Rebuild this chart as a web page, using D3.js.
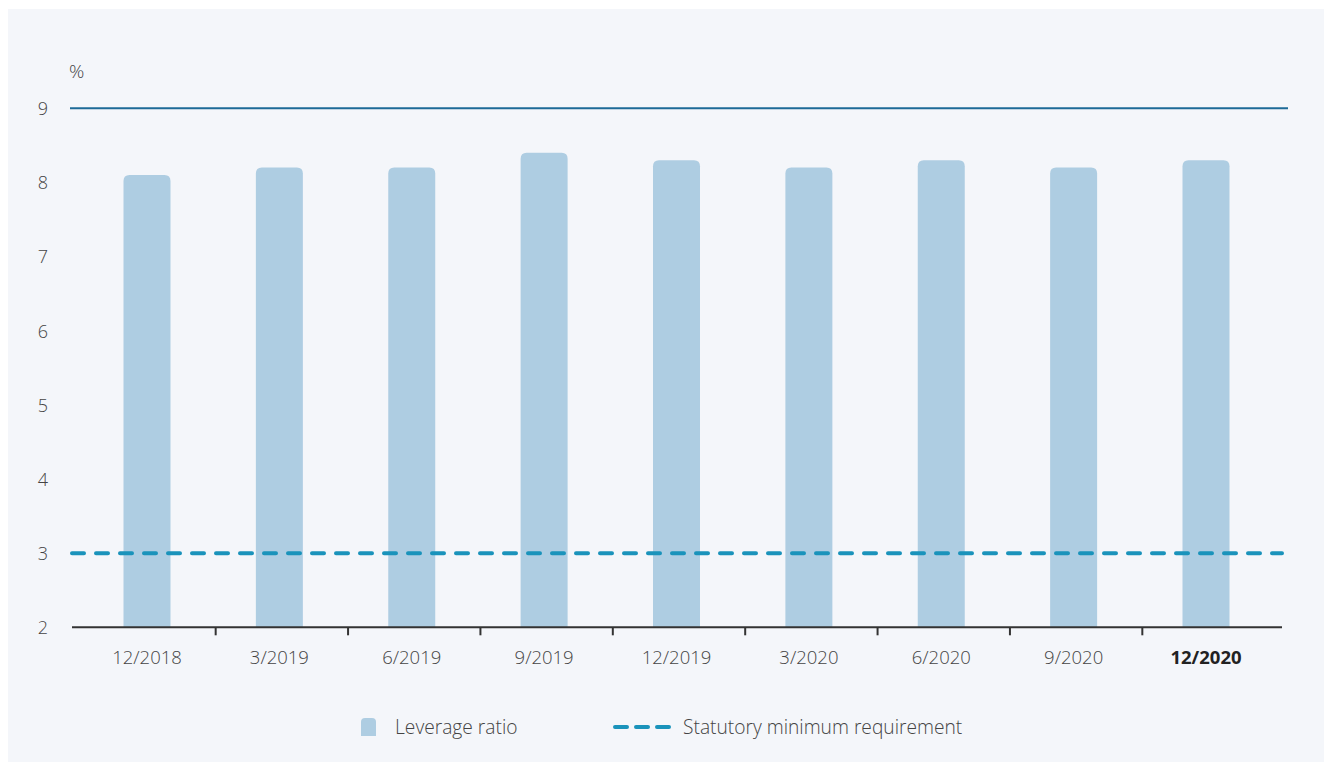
<!DOCTYPE html>
<html><head><meta charset="utf-8">
<script src="https://cdn.jsdelivr.net/npm/d3@7"></script>
<style>html,body{margin:0;padding:0;background:#fff;}svg{display:block;font-family:"Open Sans",sans-serif;}</style>
</head><body>
<svg id="c" width="1332" height="771"></svg>
<script>
const categories = ["12/2018","3/2019","6/2019","9/2019","12/2019","3/2020","6/2020","9/2020","12/2020"];
const leverageRatio = [8.1, 8.2, 8.2, 8.4, 8.3, 8.2, 8.3, 8.2, 8.3];
const statutoryMinimum = 3;
const yTicks = [2,3,4,5,6,7,8,9];
const seriesNames = ["Leverage ratio", "Statutory minimum requirement"];

const svg = d3.select("#c");
svg.append("rect").attr("x",8).attr("y",9).attr("width",1316).attr("height",753).attr("fill","#f4f6fa");

const y = d3.scaleLinear().domain([2,9]).range([627.3,108.3]);
const x = d3.scaleBand().domain(categories).range([80.8, 1272.2]).paddingInner(0.645).paddingOuter(0.3225);

// y tick labels
const yAxis = d3.axisLeft(y).tickValues(yTicks).tickSize(0).tickPadding(0).tickFormat(d3.format("d"));
const gy = svg.append("g").attr("transform","translate(48,0)").call(yAxis);
gy.select(".domain").remove();
gy.selectAll("text").attr("font-size",18).attr("fill","#444").attr("font-family","Open Sans, sans-serif").attr("font-weight",300).attr("dy","0.35em");

svg.append("text").attr("x",69).attr("y",78).attr("font-size",19).attr("font-weight",300).attr("fill","#444").text("%");

// top line at 9
svg.append("line").attr("x1",70).attr("x2",1288).attr("y1",y(9)).attr("y2",y(9)).attr("stroke","#1d6a97").attr("stroke-width",2);

// bars with rounded top
const r = 6;
svg.append("g").selectAll("path").data(leverageRatio).join("path")
  .attr("fill","#aecde2")
  .attr("d",(d,i)=>{
    const x0 = x(categories[i]), w = x.bandwidth(), y0 = y(d), yb = y(2);
    return `M${x0},${yb}V${y0+r}Q${x0},${y0} ${x0+r},${y0}H${x0+w-r}Q${x0+w},${y0} ${x0+w},${y0+r}V${yb}Z`;
  });

// x axis
const step = x.step();
svg.append("line").attr("x1",72).attr("x2",1282).attr("y1",y(2)).attr("y2",y(2)).attr("stroke","#333").attr("stroke-width",2);
const tickPos = categories.slice(0,-1).map((c,i)=> x(c)+x.bandwidth()/2+step/2+2.5);
svg.append("g").selectAll("line").data(tickPos).join("line")
  .attr("x1",d=>d).attr("x2",d=>d).attr("y1",y(2)).attr("y2",y(2)+8).attr("stroke","#333").attr("stroke-width",2);

const xAxis = d3.axisBottom(x).tickSize(0).tickPadding(0);
const gx = svg.append("g").attr("transform",`translate(0,${y(2)+37})`).call(xAxis);
gx.select(".domain").remove();
gx.selectAll("text").attr("font-size",18.5).attr("font-family","Open Sans, sans-serif").attr("dy","0")
  .attr("font-weight",(d,i)=> i===categories.length-1 ? "bold":300)
  .attr("fill",(d,i)=> i===categories.length-1 ? "#222":"#444");

// dashed statutory line
svg.append("line").attr("x1",72).attr("x2",1282).attr("y1",y(statutoryMinimum)).attr("y2",y(statutoryMinimum))
  .attr("stroke","#1a93bb").attr("stroke-width",4).attr("stroke-dasharray","12 12").attr("stroke-linecap","round");

// legend
const lg = svg.append("g");
lg.append("path").attr("d","M361,736V722Q361,718 365,718H372Q376,718 376,722V736Z").attr("fill","#aecde2");
lg.append("text").attr("x",395).attr("y",734).attr("font-size",19.2).attr("font-weight",300).attr("fill","#444").text(seriesNames[0]);
lg.append("line").attr("x1",615).attr("x2",672).attr("y1",727).attr("y2",727)
  .attr("stroke","#1a93bb").attr("stroke-width",4).attr("stroke-dasharray","12 9").attr("stroke-linecap","round");
lg.append("text").attr("x",683).attr("y",734).attr("font-size",19.2).attr("font-weight",300).attr("fill","#444").text(seriesNames[1]);
</script>
</body></html>
